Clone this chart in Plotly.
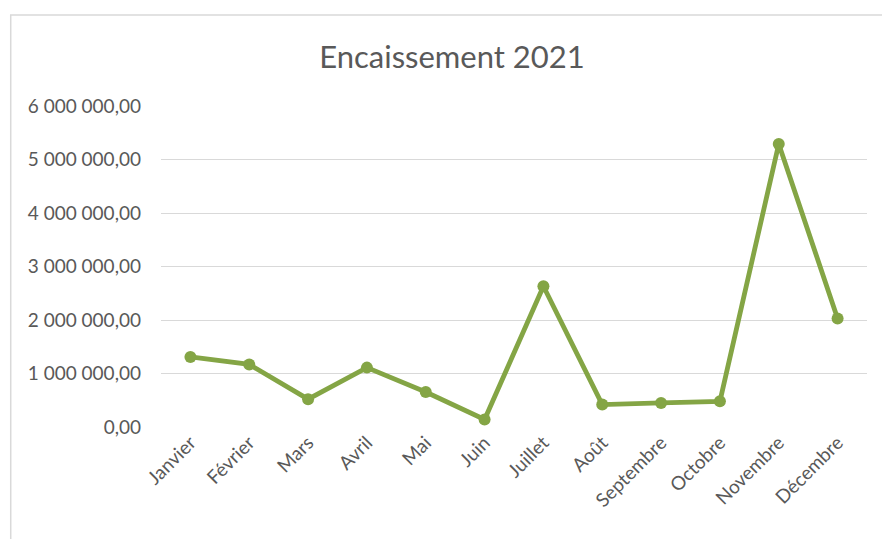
import plotly.graph_objects as go

months = ["Janvier", "Février", "Mars", "Avril", "Mai", "Juin", "Juillet",
          "Août", "Septembre", "Octobre", "Novembre", "Décembre"]
encaissement = [1310000, 1170000, 520000, 1110000, 655000, 140000, 2630000,
                420000, 450000, 480000, 5290000, 2030000]
y_ticks = [0, 1000000, 2000000, 3000000, 4000000, 5000000, 6000000]

W, H = 882, 539
L, R, T, B = 160.5, 14.5, 106, 112.3
pw, ph = W - L - R, H - T - B

def px_x(p):
    return (p - L) / pw

def px_y(p):
    return (H - B - p) / ph

fig = go.Figure()
fig.add_trace(go.Scatter(
    x=months, y=encaissement, mode="lines+markers",
    line=dict(color="#84A545", width=4.8),
    marker=dict(color="#84A545", size=12),
    hoverinfo="x+y",
))

grey = "#595959"
fig.update_layout(
    width=W, height=H,
    margin=dict(l=L, r=R, t=T, b=B, pad=0),
    paper_bgcolor="white", plot_bgcolor="white",
    separators=", ",
    showlegend=False,
    font=dict(family="Lato", color=grey, size=19),
    title=dict(text="Encaissement 2021", x=452 / W, xref="container", xanchor="center",
               y=1 - 57 / H, yref="container", yanchor="middle",
               font=dict(family="Lato", size=31, color=grey)),
    xaxis=dict(
        type="category", showgrid=False, zeroline=False, showline=False,
        ticks="", tickangle=-45, tickfont=dict(size=19, color=grey),
        range=[-0.5, 11.5],
    ),
    yaxis=dict(
        range=[0, 6000000], tickvals=y_ticks, tickformat=",.2f",
        showgrid=True, gridcolor="#d9d9d9", gridwidth=1.3,
        zeroline=False, showline=False, ticks="",
        ticklabelstandoff=19,
        tickfont=dict(size=19, color=grey),
    ),
    shapes=[dict(
        type="rect", xref="paper", yref="paper",
        x0=px_x(10), x1=px_x(W + 20), y0=px_y(H + 20), y1=px_y(15),
        line=dict(color="#d9d9d9", width=1.5), fillcolor="rgba(0,0,0,0)",
        layer="below",
    )],
)

fig.write_html("out.html")
